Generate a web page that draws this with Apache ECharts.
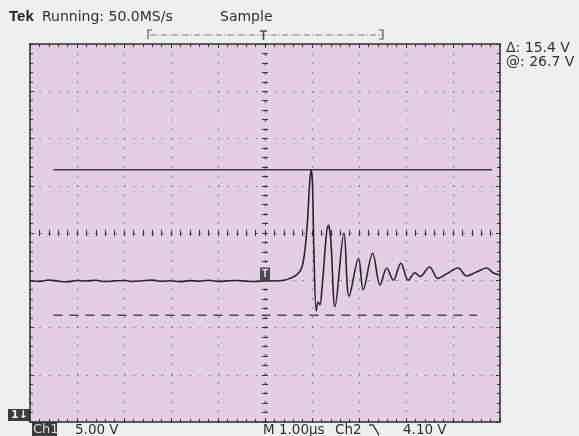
<!DOCTYPE html>
<html>
<head>
<meta charset="utf-8">
<script src="https://cdn.jsdelivr.net/npm/echarts@6/dist/echarts.min.js"></script>
<style>
  html, body { margin: 0; padding: 0; background: #eef0ef; }
  #chart { width: 579px; height: 436px; }
</style>
</head>
<body>
<div id="chart"></div>
<script>
// time in microseconds (1.00 us/div), voltage in volts above ground (5.00 V/div)
const timeUs = [
  -5, -4.8, -4.6, -4.4, -4.2, -4.0, -3.8, -3.6, -3.4, -3.2,
  -3.0, -2.8, -2.6, -2.4, -2.2, -2.0, -1.8, -1.6, -1.4, -1.2,
  -1.0, -0.8, -0.6, -0.4, -0.2, 0, 0.2, 0.4, 0.53,
  0.68, 0.78, 0.85, 0.91, 0.94, 0.98, 1.01, 1.04, 1.09, 1.13,
  1.17, 1.21, 1.35, 1.40, 1.49, 1.68, 1.79, 1.99, 2.09, 2.29,
  2.45, 2.59, 2.73, 2.89, 3.05, 3.19, 3.30, 3.50, 3.68, 3.87,
  4.11, 4.29, 4.49, 4.72, 4.85, 5.0
];
const volts = [
  14.95, 14.88, 15.02, 14.90, 14.84, 14.97, 14.92, 15.00, 14.86, 14.93,
  14.98, 14.87, 14.95, 15.01, 14.89, 14.94, 14.85, 14.96, 14.90, 15.00,
  14.88, 14.93, 14.97, 14.90, 14.86, 14.95, 14.92, 15.00, 15.20,
  15.60, 16.30, 18.20, 21.70, 24.50, 26.70, 25.30, 18.20, 11.75, 12.70,
  12.40, 14.00, 20.85, 19.30, 12.20, 20.00, 13.30, 17.30, 14.00, 17.85,
  14.50, 16.30, 15.00, 16.80, 15.00, 15.80, 15.40, 16.40, 15.20, 15.70,
  16.30, 15.45, 15.85, 16.30, 15.80, 15.55
];
// cursors: top solid, bottom dashed
const cursorLevels = [26.7, 11.3];
const cursorFrom = [-4.5, -4.5];
const cursorTo = [4.83, 4.51];
const triggerMark = [0, 15.66];

const chart = echarts.init(document.getElementById('chart'));

const dotted = [1.5, 7.9];
const tickColor = '#333';

function borderX(pos, grid) {
  return {
    type: 'value', min: -5, max: 5, interval: 1, position: pos,
    axisLine: { onZero: false, lineStyle: { color: '#2e2e2e', width: 1.5 } },
    axisTick: { inside: true, length: 4, lineStyle: { color: tickColor } },
    minorTick: { show: true, splitNumber: 5, length: 3, lineStyle: { color: tickColor } },
    axisLabel: { show: false },
    splitLine: { show: grid, lineStyle: { color: '#7a6a7a', width: 1.2, type: dotted } }
  };
}
function borderY(pos, grid) {
  return {
    type: 'value', min: 0, max: 40, interval: 5, position: pos,
    axisLine: { onZero: false, lineStyle: { color: '#2e2e2e', width: 1.5 } },
    axisTick: { inside: true, length: 4, lineStyle: { color: tickColor } },
    minorTick: { show: true, splitNumber: 5, length: 3, lineStyle: { color: tickColor } },
    axisLabel: { show: false },
    splitLine: { show: grid, lineStyle: { color: '#7a6a7a', width: 1.2, type: dotted } }
  };
}
function centerX(pos) {
  return {
    type: 'value', min: -5, max: 5, interval: 1, position: pos,
    axisLine: { onZero: true, onZeroAxisIndex: 2, lineStyle: { color: '#555', width: 1.2, type: dotted } },
    axisTick: { length: 3, lineStyle: { color: tickColor } },
    minorTick: { show: true, splitNumber: 5, length: 3, lineStyle: { color: tickColor } },
    axisLabel: { show: false },
    splitLine: { show: false }
  };
}
function centerY(pos) {
  return {
    type: 'value', min: -20, max: 20, interval: 5, position: pos,
    axisLine: { onZero: true, onZeroAxisIndex: 0, lineStyle: { color: '#555', width: 1.2, type: dotted } },
    axisTick: { length: 3, lineStyle: { color: tickColor } },
    minorTick: { show: true, splitNumber: 5, length: 3, lineStyle: { color: tickColor } },
    axisLabel: { show: false },
    splitLine: { show: false }
  };
}

const txt = (x, y, text, font, fill) => ({
  type: 'text', x: x, y: y, z: 10,
  style: { text: text, font: font, fill: fill || '#333', verticalAlign: 'middle' }
});

const option = {
  animation: false,
  backgroundColor: '#eef0ef',
  grid: {
    left: 30, right: 79, top: 44, bottom: 14,
    show: true, backgroundColor: '#e4cee5', borderWidth: 0,
    outerBoundsMode: 'none'
  },
  xAxis: [borderX('bottom', true), borderX('top', false), centerX('bottom'), centerX('top')],
  yAxis: [borderY('left', true), borderY('right', false), centerY('left'), centerY('right')],
  series: [
    {
      type: 'line', xAxisIndex: 0, yAxisIndex: 0,
      data: timeUs.map((t, i) => [t, volts[i]]),
      showSymbol: false, smooth: 0.35,
      lineStyle: { color: '#262626', width: 1.6 },
      markPoint: {
        symbol: 'rect', symbolSize: [10, 13],
        itemStyle: { color: '#4a4a4a' },
        label: { show: true, formatter: 'T', color: '#e8e8e8', fontSize: 10, fontWeight: 'bold' },
        data: [{ coord: triggerMark }]
      }
    },
    {
      type: 'line', xAxisIndex: 0, yAxisIndex: 0, showSymbol: false,
      data: [[cursorFrom[0], cursorLevels[0]], [cursorTo[0], cursorLevels[0]]],
      lineStyle: { color: '#3a3a3a', width: 1.5 }
    },
    {
      type: 'line', xAxisIndex: 0, yAxisIndex: 0, showSymbol: false,
      data: [[cursorFrom[1], cursorLevels[1]], [cursorTo[1], cursorLevels[1]]],
      lineStyle: { color: '#4a4a4a', width: 1.4, type: [9, 7] }
    }
  ],
  graphic: [
    // pale strip under the top border
    { type: 'rect', shape: { x: 31, y: 45, width: 468, height: 7 }, style: { fill: 'rgba(255,255,255,0.45)' }, z: -1 },
    txt(9, 17, 'Tek', 'bold 15px "Liberation Sans"', '#222'),
    txt(42, 17, 'Running: 50.0MS/s', '14px "DejaVu Sans"', '#2e2e2e'),
    txt(220, 17, 'Sample', '14px "DejaVu Sans"', '#2e2e2e'),
    // record length bracket
    { type: 'polyline', shape: { points: [[152, 30], [148, 30], [148, 39]] }, style: { stroke: '#555', lineWidth: 1.2, fill: null } },
    { type: 'line', shape: { x1: 150, y1: 35, x2: 382, y2: 35 }, style: { stroke: '#777', lineWidth: 1, lineDash: [6, 2, 1, 2] } },
    { type: 'polyline', shape: { points: [[379, 30], [383, 30], [383, 39], [379, 39]] }, style: { stroke: '#555', lineWidth: 1.2, fill: null } },
    { type: 'polyline', shape: { points: [[260, 31], [267, 31]] }, style: { stroke: '#444', lineWidth: 1.4 } },
    { type: 'line', shape: { x1: 263.5, y1: 31, x2: 263.5, y2: 40 }, style: { stroke: '#444', lineWidth: 1.4 } },
    txt(506, 48, '\u0394: 15.4 V', '14px "DejaVu Sans"', '#2e2e2e'),
    txt(506, 62, '@: 26.7 V', '14px "DejaVu Sans"', '#2e2e2e'),
    // bottom status line
    { type: 'rect', shape: { x: 8, y: 409, width: 22, height: 12 }, style: { fill: '#3c3c3c' } },
    txt(11, 415.5, '1\u2193', 'bold 11px "DejaVu Sans"', '#f2f2f2'),
    { type: 'rect', shape: { x: 32, y: 422, width: 25, height: 14 }, style: { fill: '#3c3c3c' } },
    txt(33, 430, 'Ch1', '13px "DejaVu Sans"', '#dcdcdc'),
    txt(75, 430, '5.00 V', '13.5px "DejaVu Sans"', '#2e2e2e'),
    txt(263, 430, 'M 1.00\u00b5s', '13.5px "DejaVu Sans"', '#2e2e2e'),
    txt(335, 430, 'Ch2', '13.5px "DejaVu Sans"', '#2e2e2e'),
    { type: 'polyline', shape: { points: [[369, 425], [373, 425], [379, 435]] }, style: { stroke: '#333', lineWidth: 1.4, fill: null } },
    txt(403, 430, '4.10 V', '13.5px "DejaVu Sans"', '#2e2e2e')
  ]
};

chart.setOption(option);
</script>
</body>
</html>
